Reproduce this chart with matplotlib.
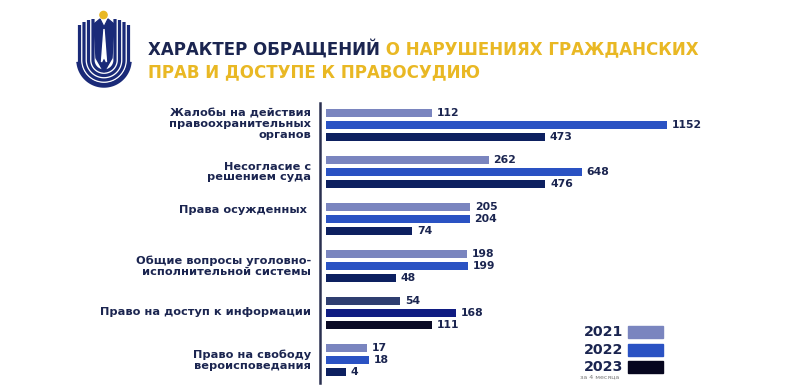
import numpy as np
import matplotlib
matplotlib.use("Agg")
import matplotlib.pyplot as plt
from matplotlib.patches import Rectangle, Circle, Polygon
from matplotlib.lines import Line2D

# ---- data ----
categories = [
    "Жалобы на действия\nправоохранительных\nорганов",
    "Несогласие с\nрешением суда",
    "Права осужденных ",
    "Общие вопросы уголовно-\nисполнительной системы",
    "Право на доступ к информации",
    "Право на свободу\nвероисповедания",
]
years = ["2021", "2022", "2023"]
v2021 = [112, 262, 205, 198, 54, 17]
v2022 = [1152, 648, 204, 199, 168, 18]
v2023 = [473, 476, 74, 48, 111, 4]
legend_note = "за 4 месяца"
title_dark = "ХАРАКТЕР ОБРАЩЕНИЙ"
title_gold1 = " О НАРУШЕНИЯХ ГРАЖДАНСКИХ"
title_gold2 = "ПРАВ И ДОСТУПЕ К ПРАВОСУДИЮ"

# ---- styles ----
colors = ["#7a85bf", "#2a52c3", "#0d2060"]
special_colors = {4: ["#2f3e70", "#101c82", "#0a0a25"]}
legend_colors = ["#7a85bf", "#2a52c3", "#06061f"]
navy = "#1b2550"
gold = "#e9b824"
FONT = "DejaVu Sans"

W, H = 800, 388
fig = plt.figure(figsize=(W / 100, H / 100), dpi=100)
fig.patch.set_facecolor("white")

def fx(px):
    return px / W

def fy(py):
    return 1 - py / H

# main axes
ax_l, ax_r, ax_t, ax_b = 326, 726, 103, 383
ax = fig.add_axes([fx(ax_l), fy(ax_b), fx(ax_r - ax_l), (ax_b - ax_t) / H])
ax.set_xscale("function", functions=(np.sqrt, np.square))
ax.set_xlim(0, 1584)

group_gap = 3.92
bar_h = 0.72
series = [v2021, v2022, v2023]
for g in range(len(categories)):
    for i, vals in enumerate(series):
        y = g * group_gap + i
        c = special_colors.get(g, colors)[i]
        ax.barh(y, vals[g], height=bar_h, color=c, left=0)
        ax.annotate(str(vals[g]), xy=(vals[g], y), xytext=(3.5, 0),
                    textcoords="offset points", va="center", ha="left",
                    fontsize=7.8, fontweight="bold", color=navy, family=FONT)
last = (len(categories) - 1) * group_gap + 2
ax.set_ylim(last + 11 / 12, -10 / 12)
ax.axis("off")

# vertical axis line
fig.add_artist(Line2D([fx(320), fx(320)], [fy(103), fy(383)], color="#2a3050", lw=1.8))

# category labels
label_y = [124, 172, 210, 266, 312, 360]
for lab, py in zip(categories, label_y):
    fig.text(fx(311), fy(py), lab, ha="right", va="center", fontsize=8.2,
             fontweight="bold", color=navy, family=FONT, linespacing=1.12,
             multialignment="right")

# title
TS = 12.0
t1 = fig.text(fx(148), fy(49), title_dark, ha="left", va="center", fontsize=TS,
              fontweight="bold", color=navy, family=FONT)
ax.annotate(title_gold1, xy=(1, 0.5), xycoords=t1, va="center", ha="left",
            fontsize=TS, fontweight="bold", color=gold, family=FONT,
            annotation_clip=False)
fig.text(fx(148), fy(72), title_gold2, ha="left", va="center", fontsize=TS,
         fontweight="bold", color=gold, family=FONT)

# legend
leg_y = [332, 350, 367]
for yr, c, py in zip(years, legend_colors, leg_y):
    fig.text(fx(623), fy(py), yr, ha="right", va="center", fontsize=10.3,
             fontweight="bold", color=navy, family=FONT)
    fig.add_artist(Rectangle((fx(628), fy(py + 6)), fx(35), 12 / H,
                             color=c, transform=fig.transFigure))
fig.text(fx(600), fy(377), legend_note, ha="center", va="center", fontsize=4.5,
         color="#777777", family=FONT)

# logo (simplified)
lax = fig.add_axes([fx(68), fy(94), fx(72), 88 / H])
lax.set_xlim(68, 140)
lax.set_ylim(94, 6)
lax.axis("off")
logo_navy = "#1a2a78"
cx, cy = 104, 60
ribs = [(24.5, 25), (20.0, 22), (15.5, 20), (11.0, 19)]
for hw, top in ribs:
    th = np.linspace(0, np.pi, 80)
    xs = np.concatenate([[cx - hw], cx - hw * np.cos(th), [cx + hw]])
    ys = np.concatenate([[top], cy + hw * np.sin(th), [top]])
    xs = np.concatenate([[cx - hw, cx - hw], (cx - hw * np.cos(th)), [cx + hw, cx + hw]])
    ys = np.concatenate([[top, cy], cy + hw * np.sin(th), [cy, top]])
    lax.plot(xs, ys, color=logo_navy, lw=2.3, solid_capstyle="butt")
# outer thick bottom band
th = np.linspace(0.15, np.pi - 0.15, 80)
lax.plot(cx - 25.5 * np.cos(th), cy + 25.5 * np.sin(th), color=logo_navy, lw=3.2)
# center wings
lax.add_patch(Polygon([(94, 24), (100, 19), (104, 27), (108, 19), (114, 24),
                       (112, 58), (104, 72), (96, 58)], closed=True, color=logo_navy))
lax.add_patch(Polygon([(104, 29), (106.5, 62), (104, 57), (101.5, 62)], closed=True,
                      color="white"))
lax.add_patch(Circle((103.5, 15), 3.6, color=gold))

fig.savefig("out.png", dpi=100, facecolor="white")
